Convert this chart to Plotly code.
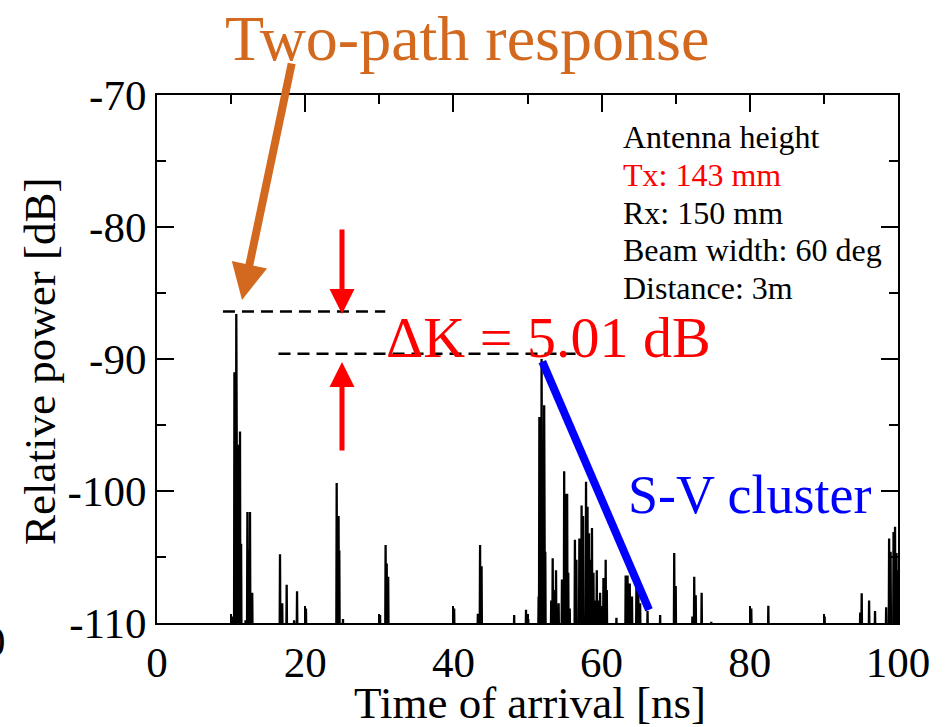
import plotly.graph_objects as go

# ---- data ----
spike_toa_ns = [
    10.15, 10.45, 10.55, 10.7, 10.8, 10.95, 11.2, 11.35, 11.95, 12.2, 12.35, 12.55, 12.85,
    16.6, 16.9, 17.5, 18.5, 18.9, 20.1,
    24.25, 24.5, 24.6, 25.1,
    30.1, 30.85, 31.0, 31.2,
    40.1, 43.3, 43.6, 43.8,
    48.2, 49.8, 50.1,
    51.5, 51.6, 51.75, 51.9, 52.05, 52.25, 52.4,
    53.2, 53.4, 53.6, 53.85, 54.2, 54.65, 54.95, 55.15, 55.35, 55.5, 55.7,
    56.4, 56.6, 57.0, 57.3, 57.5, 57.9, 58.1, 58.3, 58.5, 58.7, 58.9,
    59.05, 59.35, 59.6, 59.8, 60.25, 60.55, 60.7,
    62.0, 63.25, 63.5, 63.8, 64.1, 64.7, 64.95, 65.2, 66.2, 67.9,
    69.8, 70.0, 72.25, 72.5, 72.7, 73.5, 74.8,
    80.2, 82.5, 90.1,
    94.9, 95.1, 96.1, 96.9, 98.4, 98.8, 99.0, 99.4, 99.6, 99.8, 99.95,
]
spike_power_db = [
    -109.5, -91.0, -92.5, -86.6, -94.0, -96.5, -95.5, -104.0, -109.8, -101.6, -104.5, -101.6, -107.7,
    -104.8, -108.5, -107.1, -109.8, -107.6, -108.9,
    -99.4, -101.9, -104.5, -109.7,
    -109.4, -104.1, -105.5, -106.5,
    -108.9, -109.3, -104.1, -105.7,
    -109.4, -109.0, -109.7,
    -108.0, -94.4, -96.0, -90.0, -97.3, -93.5, -104.6,
    -108.3, -105.1, -107.5, -106.0, -108.5, -106.7, -98.5, -100.2, -100.2, -106.2, -108.9,
    -103.7, -105.2, -103.6, -101.1, -101.9, -99.3, -101.2, -103.2, -105.2, -102.8, -106.2,
    -108.3, -106.0, -108.3, -107.7, -106.6, -105.2, -107.5,
    -109.6, -106.4, -106.4, -107.0, -108.0, -107.0, -106.6, -108.5, -109.1, -109.4,
    -104.7, -107.2, -109.5, -106.5, -107.9, -107.7, -109.9,
    -108.9, -108.7, -109.5,
    -109.2, -107.75, -108.3, -109.1, -108.8, -103.6, -104.6, -103.1, -102.7, -104.7, -106.0,
]
noise_floor_db = -111.0

# reference levels (dashed) and S-V decay line
two_path_level_x = [8.9, 30.8]
two_path_level_y = [-86.4, -86.4]
cluster_level_x = [16.4, 57.1]
cluster_level_y = [-89.6, -89.6]
sv_line_x = [52.0, 66.4]
sv_line_y = [-90.2, -109.0]

x_ticks = [0, 20, 40, 60, 80, 100]
y_ticks = [-110, -100, -90, -80, -70]

info_lines = ["Antenna height", "Tx: 143 mm", "Rx: 150 mm", "Beam width: 60 deg", "Distance: 3m"]
info_colors = ["black", "red", "black", "black", "black"]

# ---- build impulse-response trace ----
tx, ty = [0.0], [noise_floor_db]
for t, p in zip(spike_toa_ns, spike_power_db):
    tx += [t - 0.05, t, t + 0.05]
    ty += [noise_floor_db, p, noise_floor_db]
tx.append(100.0)
ty.append(noise_floor_db)

FONT = "Liberation Serif"
fig = go.Figure()
fig.add_trace(go.Scatter(x=tx, y=ty, mode="lines", line=dict(color="black", width=2.3),
                         showlegend=False, hoverinfo="skip"))
fig.add_trace(go.Scatter(x=two_path_level_x, y=two_path_level_y, mode="lines",
                         line=dict(color="black", width=2.5, dash="12px,7px"), showlegend=False))
fig.add_trace(go.Scatter(x=cluster_level_x, y=cluster_level_y, mode="lines",
                         line=dict(color="black", width=2.5, dash="12px,7px"), showlegend=False))
fig.add_trace(go.Scatter(x=sv_line_x, y=sv_line_y, mode="lines",
                         line=dict(color="#0000FF", width=8), showlegend=False))

# pixel helpers for annotation placement
W, H = 945, 727
L, R, T, B = 157, 898, 95, 623
def px2x(px):
    return (px - L) / (R - L) * 100
def py2y(py):
    return -70 - (py - T) / (B - T) * 40
def px2p(px):
    return (px - L) / (R - L)
def py2p(py):
    return (B - py) / (B - T)

ann = []
# axis titles
ann.append(dict(x=px2p(530), y=py2p(703), xref="paper", yref="paper", text="Time of arrival [ns]",
                xanchor="center", yanchor="middle", showarrow=False,
                font=dict(family=FONT, size=45, color="black")))
ann.append(dict(x=px2p(40), y=py2p(362), xref="paper", yref="paper", text="Relative power [dB]",
                xanchor="center", yanchor="middle", textangle=-90, showarrow=False,
                font=dict(family=FONT, size=45, color="black")))
# Two-path response title + arrow
ann.append(dict(x=px2p(467), y=py2p(38), xref="paper", yref="paper", text="Two-path response",
                xanchor="center", yanchor="middle",
                showarrow=False, font=dict(family=FONT, size=64, color="#D2691E")))
ann.append(dict(x=px2x(242), y=py2y(300), xref="x", yref="y", ax=50, ay=-238, text="",
                showarrow=True, arrowhead=2, arrowsize=0.9, arrowwidth=8, arrowcolor="#D2691E"))
# Red arrows
ann.append(dict(x=px2x(342), y=py2y(314), xref="x", yref="y", ax=0, ay=-86, text="",
                showarrow=True, arrowhead=2, arrowsize=1.0, arrowwidth=5, arrowcolor="red"))
ann.append(dict(x=px2x(342), y=py2y(362), xref="x", yref="y", ax=0, ay=90, text="",
                showarrow=True, arrowhead=2, arrowsize=1.0, arrowwidth=5, arrowcolor="red"))
ann.append(dict(x=px2x(384), y=py2y(337), xref="x", yref="y", text="ΔK = 5.01 dB",
                xanchor="left", yanchor="middle",
                showarrow=False, font=dict(family=FONT, size=58, color="red")))
ann.append(dict(x=px2x(626), y=py2y(495), xref="x", yref="y", text="S-V cluster",
                xanchor="left", yanchor="middle",
                showarrow=False, font=dict(family=FONT, size=54, color="#0000FF")))
for i, (line, col) in enumerate(zip(info_lines, info_colors)):
    ann.append(dict(x=px2x(621), y=py2y(137 + i * 37.8), xref="x", yref="y", text=line,
                    xanchor="left", yanchor="middle", showarrow=False,
                    font=dict(family=FONT, size=32, color=col)))
# stray clipped label at the left edge (cut off in the reference too)
ann.append(dict(x=px2p(8), y=py2p(641), xref="paper", yref="paper",
                text="0", xanchor="right", yanchor="middle", showarrow=False,
                font=dict(family=FONT, size=43, color="black")))

axis_common = dict(showline=True, linecolor="black", linewidth=2, mirror="ticks", ticks="inside",
                   tickwidth=2, ticklen=17, tickcolor="black", showgrid=False, zeroline=False,
                   automargin=False, tickfont=dict(family=FONT, size=43, color="black"))
fig.update_layout(
    width=W, height=H,
    margin=dict(l=L, r=W - R, t=T, b=H - B, autoexpand=False),
    paper_bgcolor="white", plot_bgcolor="white",
    xaxis=dict(range=[0, 100], tickvals=x_ticks, ticktext=[str(v) for v in x_ticks],
               minor=dict(dtick=10, ticks="inside", ticklen=9, tickwidth=2, tickcolor="black"),
               **axis_common),
    yaxis=dict(range=[-110, -70], tickvals=y_ticks, ticktext=[str(v) for v in y_ticks],
               minor=dict(dtick=5, ticks="inside", ticklen=9, tickwidth=2, tickcolor="black"),
               **axis_common),
    annotations=ann,
)
fig.write_html("out.html")
